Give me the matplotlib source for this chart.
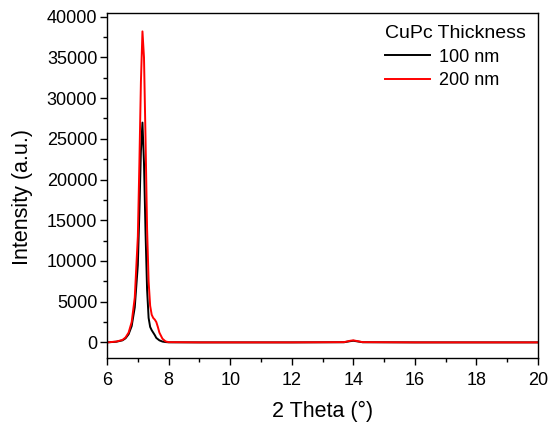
import matplotlib as mpl
import matplotlib.pyplot as plt
from matplotlib.ticker import MultipleLocator

mpl.rcParams.update(
    {
        "font.family": ["Liberation Sans", "DejaVu Sans"],
        "font.size": 11,
        "axes.linewidth": 1.0,
        "xtick.direction": "out",
        "ytick.direction": "out",
    }
)

# 2 theta positions and intensities
theta_100 = [6.0, 6.3, 6.5, 6.6, 6.7, 6.8, 6.9, 7.0, 7.05, 7.1, 7.15, 7.2, 7.25, 7.3,
             7.35, 7.4, 7.45, 7.5, 7.55, 7.6, 7.7, 7.8, 7.9, 8.0, 9.0, 10.0, 12.0,
             13.7, 13.9, 14.0, 14.1, 14.3, 16.0, 18.0, 20.0]
int_100 = [0, 80, 250, 500, 1000, 2000, 4300, 9500, 16000, 23500, 27000, 22000, 13500, 6500,
           3000, 1900, 1500, 1200, 900, 550, 250, 100, 40, 10, 0, 0, 0,
           20, 150, 200, 140, 20, 0, 0, 0]

theta_200 = [6.0, 6.3, 6.5, 6.6, 6.7, 6.8, 6.9, 7.0, 7.05, 7.1, 7.15, 7.2, 7.25, 7.3,
             7.35, 7.4, 7.45, 7.5, 7.55, 7.6, 7.65, 7.7, 7.8, 7.9, 8.0, 9.0, 10.0, 12.0,
             13.7, 13.9, 14.0, 14.1, 14.3, 16.0, 18.0, 20.0]
int_200 = [0, 100, 300, 600, 1200, 2500, 5500, 13000, 22000, 32000, 38200, 35000, 25000, 14000,
           7500, 4500, 3400, 3000, 2800, 2500, 1900, 1200, 450, 120, 30, 0, 0, 0,
           30, 200, 250, 180, 30, 0, 0, 0]

fig = plt.figure(figsize=(5.49, 4.22), dpi=100)
ax = fig.add_axes([0.195, 0.152, 0.785, 0.818])

ax.plot(theta_100, int_100, color="black", linewidth=1.4, label="100 nm")
ax.plot(theta_200, int_200, color="#FF0000", linewidth=1.4, label="200 nm")

ax.set_xlim(6, 20)
ax.set_ylim(-1900, 40500)
ax.xaxis.set_major_locator(MultipleLocator(2))
ax.xaxis.set_minor_locator(MultipleLocator(1))
ax.yaxis.set_major_locator(MultipleLocator(5000))
ax.yaxis.set_minor_locator(MultipleLocator(2500))
ax.tick_params(which="major", length=5, width=1.0, labelsize=13)
ax.tick_params(axis="x", which="major", pad=5)
ax.tick_params(axis="y", which="major", pad=2)
ax.tick_params(which="minor", length=3, width=1.0)

ax.set_xlabel("2 Theta (°)", fontsize=15.5)
ax.set_ylabel("Intensity (a.u.)", fontsize=15.5)
ax.xaxis.set_label_coords(0.5, -0.125)
ax.yaxis.set_label_coords(-0.172, 0.466)

leg = ax.legend(title="CuPc Thickness", loc="upper right", frameon=False,
                fontsize=13, title_fontsize=14, handlelength=2.5,
                handletextpad=0.5, labelspacing=0.35, borderaxespad=0.3,
                alignment="left")

fig.savefig("out.png", dpi=100)
